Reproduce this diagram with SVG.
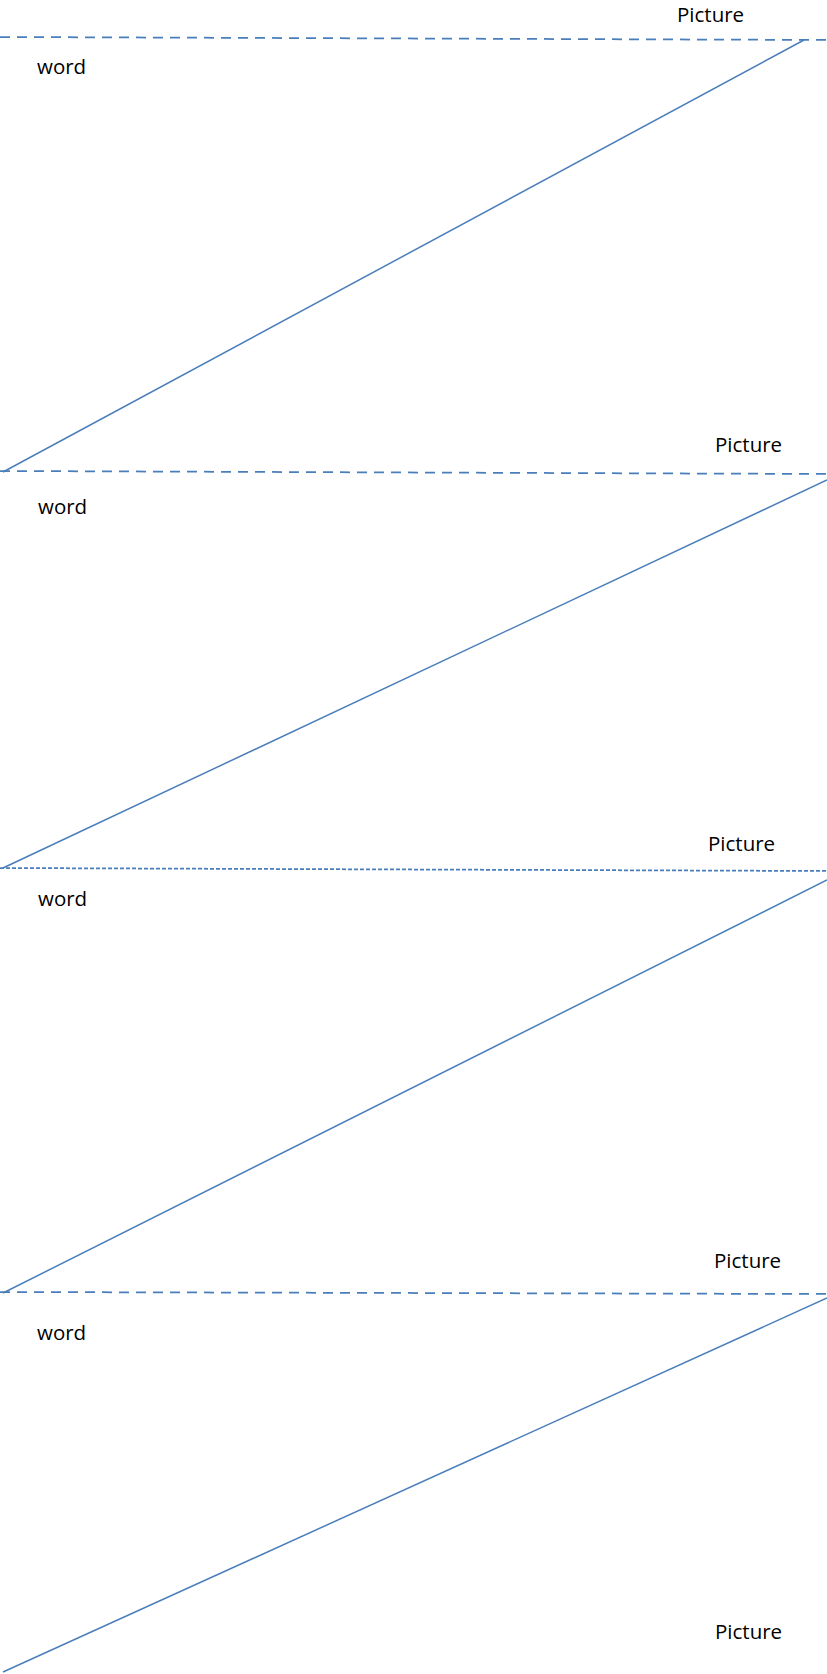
<svg xmlns="http://www.w3.org/2000/svg" width="827" height="1674" viewBox="0 0 827 1674">
<style>
.lbl{font-family:"Open Sans","Liberation Sans",sans-serif;font-size:20.5px;fill:#000}
.solid{stroke:#4a7ebb;stroke-width:1.5;fill:none}
.dash{stroke:#4a7ebb;stroke-width:1.75;fill:none;stroke-dasharray:10 7}
.dash2{stroke:#4a7ebb;stroke-width:1.75;fill:none;stroke-dasharray:4 2}
</style>
<rect width="827" height="1674" fill="#fff"/>
<g id="connectors">
<line class="dash" x1="0" y1="37" x2="827" y2="40"/>
<line class="solid" x1="804" y1="40" x2="3" y2="472"/>
<line class="dash" x1="0" y1="471" x2="827" y2="474"/>
<line class="solid" x1="827" y1="480" x2="3" y2="868"/>
<line class="dash2" x1="0" y1="868" x2="827" y2="871"/>
<line class="solid" x1="827" y1="880" x2="3" y2="1293"/>
<line class="dash" x1="0" y1="1292" x2="827" y2="1294"/>
<line class="solid" x1="827" y1="1298" x2="3" y2="1672"/>
</g>
<g id="picture1"><text class="lbl" x="677" y="22">Picture</text></g>
<g id="word1"><text class="lbl" x="37" y="74">word</text></g>
<g id="picture2"><text class="lbl" x="715" y="452">Picture</text></g>
<g id="word2"><text class="lbl" x="38" y="514">word</text></g>
<g id="picture3"><text class="lbl" x="708" y="851">Picture</text></g>
<g id="word3"><text class="lbl" x="38" y="906">word</text></g>
<g id="picture4"><text class="lbl" x="714" y="1268">Picture</text></g>
<g id="word4"><text class="lbl" x="37" y="1340">word</text></g>
<g id="picture5"><text class="lbl" x="715" y="1639">Picture</text></g>
</svg>
